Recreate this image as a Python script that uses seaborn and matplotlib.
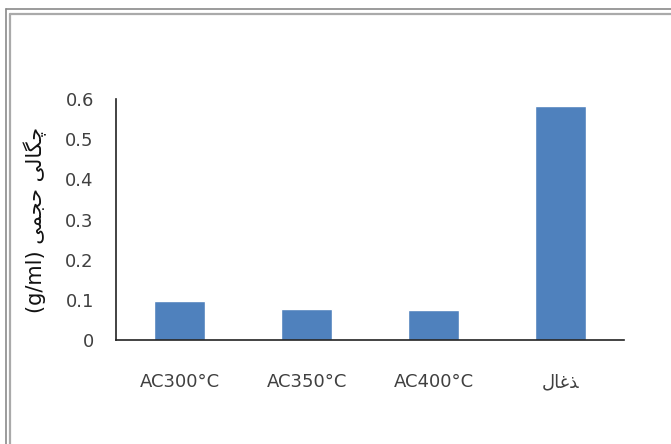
import matplotlib
matplotlib.use("Agg")
import matplotlib.pyplot as plt
import seaborn as sns
import pandas as pd
from matplotlib.lines import Line2D

# Daten
kategorien = ["AC300°C", "AC350°C", "AC400°C", "\uFEDD\uFE8E\uFECF\uFEAC"]  # ذغال (visuelle Reihenfolge)
dichte = [0.098, 0.078, 0.074, 0.582]
y_ticks = [0, 0.1, 0.2, 0.3, 0.4, 0.5, 0.6]
y_tick_labels = ["0", "0.1", "0.2", "0.3", "0.4", "0.5", "0.6"]
# "(g/ml) چگالی حجمی" in Präsentationsformen, links-nach-rechts
y_label = "(g/ml) \uFEF0\uFEE4\uFEA0\uFEA3 \uFEF0\uFEDF\uFE8E\uFB95\uFB7C"

sns.set_style("white")
plt.rcParams['font.family'] = ['DejaVu Sans']

df = pd.DataFrame({"kategorie": kategorien, "dichte": dichte})

fig = plt.figure(figsize=(6.71, 4.44), dpi=100)
ax = fig.add_axes([0.173, 0.234, 0.757, 0.543])
sns.barplot(data=df, x="kategorie", y="dichte", color="#4F81BD", saturation=1,
            width=0.4, ax=ax)

ax.set_ylim(0, 0.6)
ax.set_yticks(y_ticks)
ax.set_yticklabels(y_tick_labels)
ax.set_xlim(-0.5, 3.5)
ax.tick_params(axis="y", length=0, pad=16, labelsize=13, labelcolor="#404040")
ax.tick_params(axis="x", length=0, pad=24, labelsize=13, labelcolor="#404040")
ax.set_xlabel("")
ax.set_ylabel(y_label, fontsize=15, color="#111111", labelpad=13)

for s in ["top", "right"]:
    ax.spines[s].set_visible(False)
for s in ["left", "bottom"]:
    ax.spines[s].set_color("#222222")
    ax.spines[s].set_linewidth(1.2)

# doppelter Rahmen oben und links
W, H = 671.0, 444.0
fig.add_artist(Line2D([6 / W, 6 / W], [0, 1 - 9 / H], color="#8a8a8a", lw=1.2))
fig.add_artist(Line2D([6 / W, 1], [1 - 9 / H, 1 - 9 / H], color="#8a8a8a", lw=1.2))
fig.add_artist(Line2D([10 / W, 10 / W], [0, 1 - 14 / H], color="#aaaaaa", lw=1.6))
fig.add_artist(Line2D([10 / W, 1], [1 - 14 / H, 1 - 14 / H], color="#aaaaaa", lw=1.6))

fig.savefig("out.png", dpi=100)
